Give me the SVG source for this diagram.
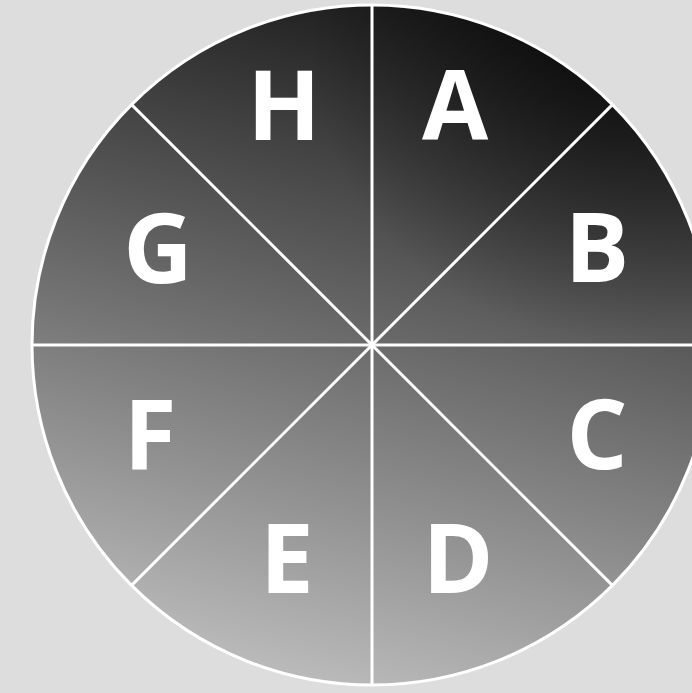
<svg xmlns="http://www.w3.org/2000/svg" width="692" height="693" viewBox="0 0 692 693">
  <defs>
    <linearGradient id="g" gradientUnits="userSpaceOnUse" x1="486" y1="-102" x2="286" y2="682">
      <stop offset="0" stop-color="#000000"/>
      <stop offset="1" stop-color="#bcbcbc"/>
    </linearGradient>
    <radialGradient id="r" gradientUnits="userSpaceOnUse" cx="610" cy="40" r="300">
      <stop offset="0" stop-color="#000000" stop-opacity="0.6"/>
      <stop offset="1" stop-color="#000000" stop-opacity="0"/>
    </radialGradient>
  </defs>
  <style>
    .sec { fill: url(#g); }
    .ovl { fill: url(#r); }
    .div { stroke: #ffffff; stroke-width: 3; fill: none; }
    .lbl { fill: #ffffff; font-family: "Open Sans", "Liberation Sans", sans-serif; font-weight: bold; font-size: 96px; text-anchor: middle; }
  </style>
  <rect x="0" y="0" width="692" height="693" fill="#dddddd"/>
  <g id="sector-A"><path class="sec" d="M372,345 L372,5 A340,340 0 0 1 612.4,104.6 Z"/><path class="ovl" d="M372,345 L372,5 A340,340 0 0 1 612.4,104.6 Z"/><text class="lbl" x="455" y="140">A</text></g>
  <g id="sector-B"><path class="sec" d="M372,345 L612.4,104.6 A340,340 0 0 1 712,345 Z"/><path class="ovl" d="M372,345 L612.4,104.6 A340,340 0 0 1 712,345 Z"/><text class="lbl" x="597" y="282">B</text></g>
  <g id="sector-C"><path class="sec" d="M372,345 L712,345 A340,340 0 0 1 612.4,585.4 Z"/><text class="lbl" x="597" y="469">C</text></g>
  <g id="sector-D"><path class="sec" d="M372,345 L612.4,585.4 A340,340 0 0 1 372,685 Z"/><text class="lbl" x="458" y="593">D</text></g>
  <g id="sector-E"><path class="sec" d="M372,345 L372,685 A340,340 0 0 1 131.6,585.4 Z"/><text class="lbl" x="287" y="593">E</text></g>
  <g id="sector-F"><path class="sec" d="M372,345 L131.6,585.4 A340,340 0 0 1 32,345 Z"/><text class="lbl" x="150" y="469">F</text></g>
  <g id="sector-G"><path class="sec" d="M372,345 L32,345 A340,340 0 0 1 131.6,104.6 Z"/><text class="lbl" x="158" y="283">G</text></g>
  <g id="sector-H"><path class="sec" d="M372,345 L131.6,104.6 A340,340 0 0 1 372,5 Z"/><path class="ovl" d="M372,345 L131.6,104.6 A340,340 0 0 1 372,5 Z"/><text class="lbl" x="284" y="140">H</text></g>
  <g id="dividers">
    <circle class="div" cx="372" cy="345" r="340"/>
    <line class="div" x1="372" y1="5" x2="372" y2="685"/>
    <line class="div" x1="32" y1="345" x2="712" y2="345"/>
    <line class="div" x1="131.6" y1="104.6" x2="612.4" y2="585.4"/>
    <line class="div" x1="612.4" y1="104.6" x2="131.6" y2="585.4"/>
  </g>
</svg>
